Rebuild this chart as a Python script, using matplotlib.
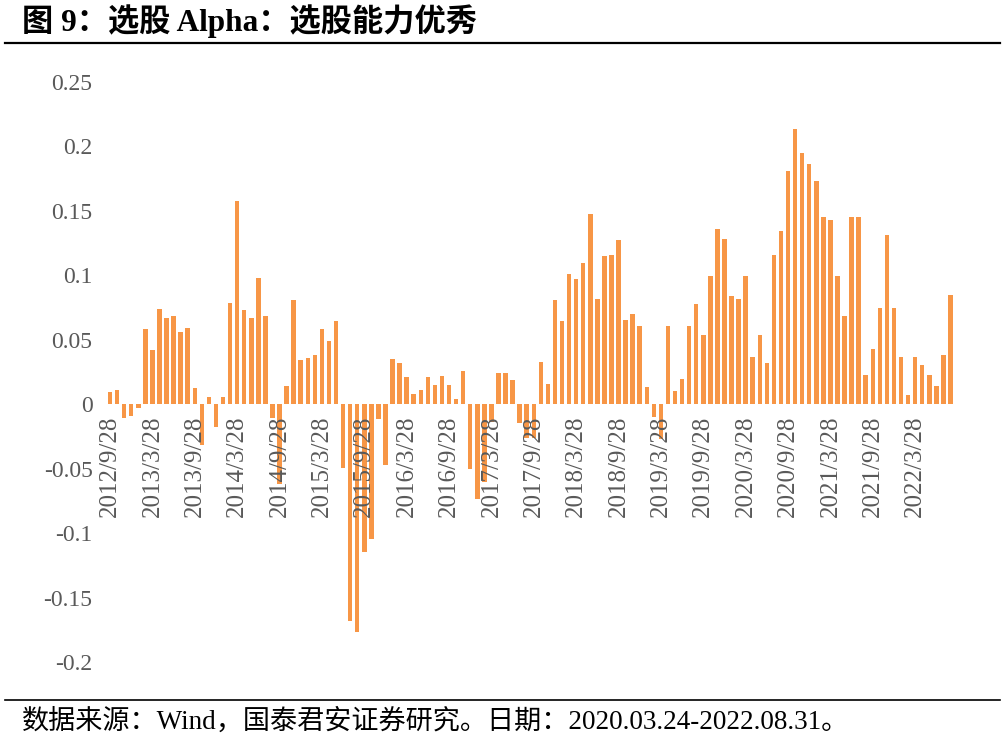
import matplotlib
matplotlib.use("Agg")
import matplotlib.pyplot as plt
from matplotlib.lines import Line2D

# ---- data ----
alpha = [
    0.0095, 0.011, -0.0106, -0.0095, -0.003, 0.058, 0.042, 0.0735, 0.0666, 0.0684,
    0.0557, 0.059, 0.0124, -0.0315, 0.0054, -0.0173, 0.0054, 0.0787, 0.158, 0.073,
    0.0666, 0.0983, 0.0684, -0.0106, -0.0619, 0.0144, 0.081, 0.0346, 0.0356, 0.0384,
    0.0586, 0.049, 0.0648, -0.0495, -0.168, -0.1767, -0.1148, -0.1045, -0.0116, -0.047,
    0.0353, 0.0322, 0.0212, 0.0077, 0.0108, 0.0212, 0.015, 0.0222, 0.015, 0.0039,
    0.0258, -0.050, -0.0735, -0.060, -0.014, 0.024, 0.0245, 0.019, -0.0147, -0.026,
    -0.026, 0.0325, 0.0155, 0.0805, 0.0648, 0.1014, 0.0973, 0.1094, 0.1476, 0.0815,
    0.115, 0.116, 0.1275, 0.0653, 0.0697, 0.0606, 0.0134, -0.010, -0.027, 0.0606,
    0.0103, 0.0194, 0.0606, 0.0774, 0.0534, 0.0998, 0.1362, 0.1282, 0.0841, 0.082,
    0.0998, 0.0369, 0.0539, 0.0323, 0.1161, 0.1344, 0.1809, 0.2134, 0.1948, 0.1865,
    0.1731, 0.145, 0.1429, 0.0998, 0.0681, 0.1455, 0.145, 0.0224, 0.0426, 0.0748,
    0.1316, 0.0748, 0.0364, 0.007, 0.0364, 0.0302, 0.0227, 0.0139, 0.0379, 0.0844,
]
tick_labels = ["2012/9/28", "2013/3/28", "2013/9/28", "2014/3/28", "2014/9/28",
               "2015/3/28", "2015/9/28", "2016/3/28", "2016/9/28", "2017/3/28",
               "2017/9/28", "2018/3/28", "2018/9/28", "2019/3/28", "2019/9/28",
               "2020/3/28", "2020/9/28", "2021/3/28", "2021/9/28", "2022/3/28"]
y_ticks = [0.25, 0.2, 0.15, 0.1, 0.05, 0, -0.05, -0.1, -0.15, -0.2]
y_tick_labels = ["0.25", "0.2", "0.15", "0.1", "0.05", "0", "-0.05", "-0.1", "-0.15", "-0.2"]

title = "图 9：选股 Alpha：选股能力优秀"
source = "数据来源：Wind，国泰君安证券研究。日期：2020.03.24-2022.08.31。"

# ---- figure ----
W, H = 1006, 742
fig = plt.figure(figsize=(W / 100, H / 100), dpi=100)
fig.patch.set_facecolor("white")

def fx(px):
    return px / W

def fy(py):
    return 1 - py / H

ax = fig.add_axes([fx(106.5), fy(662), fx(954) - fx(106.5), fy(82) - fy(662)])
x = list(range(len(alpha)))
ax.bar(x, alpha, width=0.64, color="#F79646", edgecolor="none")
ax.set_xlim(-0.5, len(alpha) - 0.5)
ax.set_ylim(-0.2, 0.25)

gray = "#595959"
serif = ["Liberation Serif", "Noto Sans CJK SC"]
ax.set_yticks(y_ticks)
ax.set_yticklabels(y_tick_labels, fontsize=17, color=gray, family=serif)
ax.tick_params(axis="y", length=0, pad=10)

ax.spines["bottom"].set_position(("data", 0))
for s in ax.spines.values():
    s.set_visible(False)
tick_pos = list(range(0, len(alpha), 6))[:len(tick_labels)]
ax.set_xticks(tick_pos)
ax.set_xticklabels(tick_labels, rotation=90, fontsize=18, color=gray, family=serif,
                   ha="center", va="top")
ax.tick_params(axis="x", length=0, pad=8)

# ---- title / lines / source ----
fig.text(fx(22), fy(21), title, fontsize=22.5, fontweight="bold",
         family=["Liberation Serif", "Noto Sans CJK SC"], ha="left", va="center")
fig.add_artist(Line2D([fx(5), fx(1000)], [fy(43), fy(43)], color="black", lw=1.6))
fig.add_artist(Line2D([fx(5), fx(1000)], [fy(700), fy(700)], color="black", lw=1.2))
fig.text(fx(22), fy(722), source, fontsize=19.5,
         family=["Liberation Serif", "Noto Sans CJK SC"], ha="left", va="center")

fig.savefig("out.png", dpi=100, facecolor="white")
